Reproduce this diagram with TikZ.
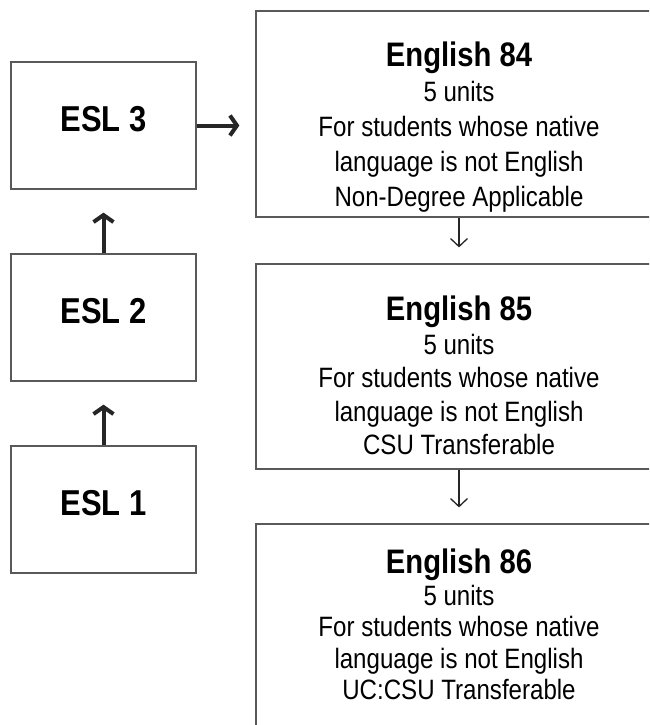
\documentclass[tikz,border=0pt]{standalone}
\usepackage{fontspec}
\setmainfont{Liberation Sans}[FakeStretch=0.86]
\usepackage{tikz}
\usetikzlibrary{arrows.meta}

\begin{document}
\begin{tikzpicture}[x=1pt, y=-1pt,
  eslbox/.style={draw=black!65, line width=1.2pt, minimum width=185pt, minimum height=127pt, inner sep=0pt, text depth=14pt, font=\fontsize{36}{40}\selectfont\bfseries},
  coursebox/.style={draw=black!65, line width=1.2pt, minimum width=406pt, inner sep=0pt},
  coursetext/.style={anchor=north, align=center, inner sep=0pt},
  uparrow/.style={-{Straight Barb[length=7pt, width=20pt]}, line width=4pt, black!85, shorten >=23pt},
  thinarrow/.style={-{Straight Barb[length=8pt, width=17pt]}, line width=1.3pt, black!85, shorten >=16pt}]

\clip (0,0) rectangle (649,725);
\fill[white] (0,0) rectangle (649,725);

% === LEFT COLUMN: ESL levels ===
\node[eslbox] (esl3) at (103.5, 125.5) {ESL 3};
\node[eslbox] (esl2) at (103.5, 317.5) {ESL 2};
\node[eslbox] (esl1) at (103.5, 509.5) {ESL 1};

% === RIGHT COLUMN: English courses ===
\node[coursebox, minimum height=206pt] (e84) at (459, 114) {};
\node[coursetext, font=\fontsize{28}{35}\selectfont] (e84txt) at (459, 42) {{\fontsize{34}{35}\selectfont\bfseries English 84}\\5 units\\For students whose native\\ language is not English\\Non-Degree Applicable};

\node[coursebox, minimum height=205pt] (e85) at (459, 366.5) {};
\node[coursetext, font=\fontsize{28}{33.5}\selectfont] (e85txt) at (459, 296) {{\fontsize{34}{35}\selectfont\bfseries English 85}\\5 units\\For students whose native\\language is not English\\CSU Transferable};

\node[coursebox, minimum height=240pt] (e86) at (459, 644) {};
\node[coursetext, font=\fontsize{28}{31.5}\selectfont] (e86txt) at (459, 549) {{\fontsize{34}{35}\selectfont\bfseries English 86}\\5 units\\For students whose native\\language is not English\\UC:CSU Transferable};

% === ARROWS ===
\draw[uparrow] (esl1.north) -- (esl2.south);
\draw[uparrow] (esl2.north) -- (esl3.south);
\draw[uparrow, shorten >=16pt] (esl3.east) -- (esl3.east -| e84.west);
\draw[thinarrow] (e84.south) -- (e85.north);
\draw[thinarrow] (e85.south) -- (e86.north);

\end{tikzpicture}
\end{document}
